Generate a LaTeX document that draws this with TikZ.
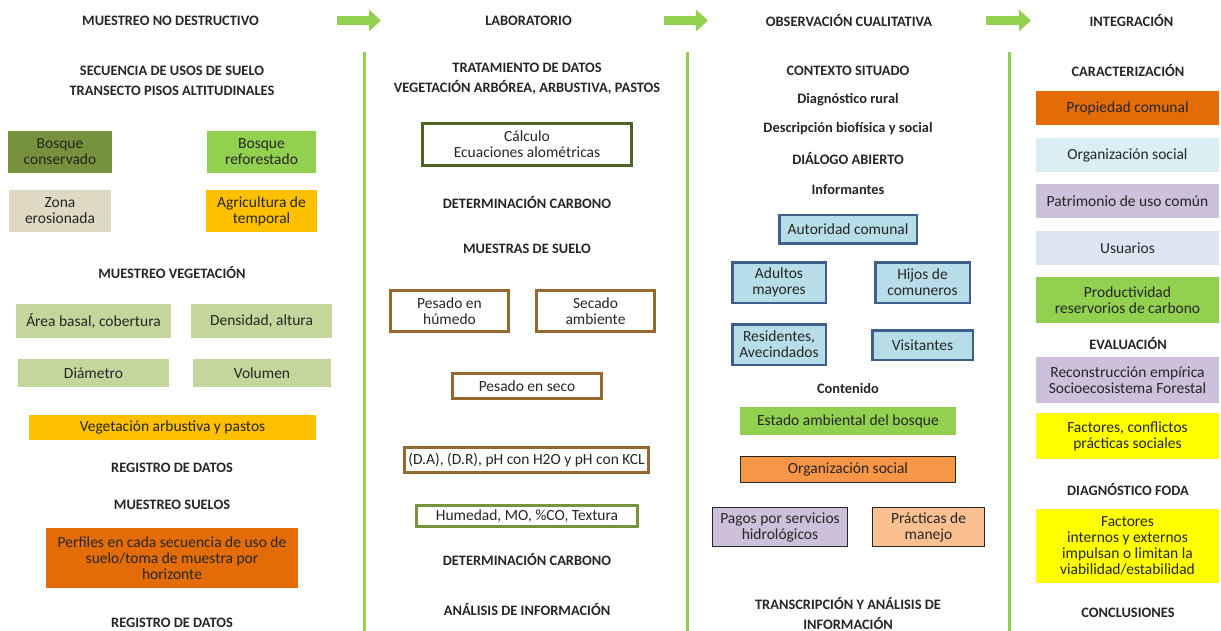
\documentclass[tikz,border=0pt]{standalone}
\usepackage{fontspec}
\setmainfont{Carlito}
\usetikzlibrary{arrows.meta}

\definecolor{txtgray}{HTML}{262626}
\definecolor{olivegreen}{HTML}{76923C}
\definecolor{limegreen}{HTML}{92D050}
\definecolor{sandtan}{HTML}{DDD9C3}
\definecolor{ambery}{HTML}{FFC000}
\definecolor{palegreen}{HTML}{C3D69B}
\definecolor{rustorange}{HTML}{E36C09}
\definecolor{skyblue}{HTML}{B7DEE8}
\definecolor{navyline}{HTML}{3F5F8A}
\definecolor{softorange}{HTML}{F79646}
\definecolor{lilac}{HTML}{CCC0DA}
\definecolor{peach}{HTML}{FAC090}
\definecolor{palecyan}{HTML}{DAEEF3}
\definecolor{paleblue}{HTML}{DCE6F2}
\definecolor{brightyellow}{HTML}{FFFF00}
\definecolor{darkolive}{HTML}{4F6228}
\definecolor{soilbrown}{HTML}{94692D}
\definecolor{mossline}{HTML}{77933C}

\tikzset{
  every node/.style={text=txtgray, font=\fontsize{15.5}{16}\selectfont},
  heading/.style={font=\fontsize{14.4}{20}\selectfont\bfseries, align=center, inner sep=0pt},
  plainbox/.style={align=center, inner sep=0pt, outer sep=0pt},
  brownbox/.style={plainbox, draw=soilbrown, line width=3pt, fill=white},
  bluebox/.style={plainbox, draw=navyline, line width=2.5pt, fill=skyblue},
  thinbox/.style={plainbox, draw=black!85, line width=1pt},
  stagearrow/.style={limegreen, line width=9pt, -{Triangle[length=12pt,width=21pt]}},
  sepline/.style={limegreen, line width=3pt}
}

\begin{document}
\begin{tikzpicture}[x=1pt,y=-1pt]
\useasboundingbox (0,0) rectangle (1221,631);

% stage titles
\node[heading] (st1) at (170.5,20.5) {MUESTREO NO DESTRUCTIVO};
\node[heading] (st2) at (528.5,20.5) {LABORATORIO};
\node[heading] (st3) at (849,20.5) {OBSERVACIÓN CUALITATIVA};
\node[heading] (st4) at (1131.5,20.5) {INTEGRACIÓN};

\coordinate (a1s) at (337,20.5);
\coordinate (a1e) at (381,20.5);
\coordinate (a2s) at (664,20.5);
\coordinate (a2e) at (708,20.5);
\coordinate (a3s) at (986,20.5);
\coordinate (a3e) at (1031,20.5);
\draw[stagearrow] (a1s) -- (a1e);
\draw[stagearrow] (a2s) -- (a2e);
\draw[stagearrow] (a3s) -- (a3e);

\coordinate (v1t) at (364,52);
\coordinate (v1b) at (364,631);
\coordinate (v2t) at (687,52);
\coordinate (v2b) at (687,631);
\coordinate (v3t) at (1009,52);
\coordinate (v3b) at (1009,631);
\draw[sepline] (v1t) -- (v1b);
\draw[sepline] (v2t) -- (v2b);
\draw[sepline] (v3t) -- (v3b);

% muestreo no destructivo
\node[heading] (secu) at (172,80.5) {SECUENCIA DE USOS DE SUELO\\TRANSECTO PISOS ALTITUDINALES};
\node[plainbox, fill=olivegreen, minimum width=104pt, minimum height=42pt] (bcons) at (60,152) {Bosque\\conservado};
\node[plainbox, fill=limegreen, minimum width=109pt, minimum height=42pt] (brefo) at (261.5,152) {Bosque\\reforestado};
\node[plainbox, fill=sandtan, minimum width=102pt, minimum height=42pt] (zona) at (60,211) {Zona\\erosionada};
\node[plainbox, fill=ambery, minimum width=111pt, minimum height=42pt] (agri) at (261.5,211) {Agricultura de\\temporal};
\node[heading] (mveg) at (172,273) {MUESTREO VEGETACIÓN};
\node[plainbox, fill=palegreen, minimum width=155pt, minimum height=34pt] (area) at (93.5,321) {Área basal, cobertura};
\node[plainbox, fill=palegreen, minimum width=141pt, minimum height=34pt] (dens) at (261.5,321) {Densidad, altura};
\node[plainbox, fill=palegreen, minimum width=151pt, minimum height=28pt] (diam) at (93.5,373) {Diámetro};
\node[plainbox, fill=palegreen, minimum width=138pt, minimum height=28pt] (volu) at (262,373) {Volumen};
\node[plainbox, fill=ambery, minimum width=287pt, minimum height=25pt] (vegar) at (172.5,427.5) {Vegetación arbustiva y pastos};
\node[heading] (reg1) at (172,468) {REGISTRO DE DATOS};
\node[heading] (msue) at (172,505) {MUESTREO SUELOS};
\node[plainbox, fill=rustorange, minimum width=252pt, minimum height=60pt] (perf) at (172,558) {Perfiles en cada secuencia de uso de\\suelo/toma de muestra por\\horizonte};
\node[heading] (reg2) at (172,623) {REGISTRO DE DATOS};

% laboratorio
\node[heading] (trat) at (527,79) {TRATAMIENTO DE DATOS\\VEGETACIÓN ARBÓREA, ARBUSTIVA, PASTOS};
\node[plainbox, draw=darkolive, line width=3pt, minimum width=209pt, minimum height=42pt] (calc) at (527,144.5) {Cálculo\\Ecuaciones alométricas};
\node[heading] (dcar1) at (527,203) {DETERMINACIÓN CARBONO};
\node[heading] (msu) at (527,249) {MUESTRAS DE SUELO};
\node[brownbox, minimum width=118pt, minimum height=41pt] (phum) at (449.5,311) {Pesado en\\húmedo};
\node[brownbox, minimum width=118pt, minimum height=41pt] (seca) at (595.5,311) {Secado\\ambiente};
\node[brownbox, minimum width=149pt, minimum height=25pt] (pseco) at (527,386) {Pesado en seco};
\node[brownbox, minimum width=244pt, minimum height=25pt] (dadr) at (526.5,460) {(D.A), (D.R), pH con H2O y pH con KCL};
\node[plainbox, draw=mossline, line width=3pt, minimum width=221pt, minimum height=21pt] (hume) at (527,516) {Humedad, MO, \%CO, Textura};
\node[heading] (dcar2) at (527,559) {DETERMINACIÓN CARBONO};
\node[heading] (anal) at (527,609) {ANÁLISIS DE INFORMACIÓN};

% observacion cualitativa
\node[heading] (ctx) at (848,71) {CONTEXTO SITUADO};
\node[heading] (diag) at (848,100) {Diagnóstico rural};
\node[heading] (desc) at (848,129) {Descripción biofísica y social};
\node[heading] (dial) at (848,159) {DIÁLOGO ABIERTO};
\node[heading] (info) at (848,190) {Informantes};
\node[bluebox, minimum width=137.5pt, minimum height=28.5pt] (auto) at (848,229.5) {Autoridad comunal};
\node[bluebox, minimum width=93.5pt, minimum height=40.5pt] (adul) at (779,282.5) {Adultos\\mayores};
\node[bluebox, minimum width=94.5pt, minimum height=40.5pt] (hijo) at (922.5,282.5) {Hijos de\\comuneros};
\node[bluebox, minimum width=93.5pt, minimum height=40.5pt] (resi) at (779,344.5) {Residentes,\\Avecindados};
\node[bluebox, minimum width=100.5pt, minimum height=29.5pt] (visi) at (922.5,345) {Visitantes};
\node[heading] (cont) at (848,388) {Contenido};
\node[plainbox, fill=limegreen, minimum width=216pt, minimum height=28pt] (esta) at (848,421) {Estado ambiental del bosque};
\node[thinbox, fill=softorange, minimum width=215pt, minimum height=26pt] (orgs) at (848,469.5) {Organización social};
\node[thinbox, fill=lilac, minimum width=135pt, minimum height=39pt] (pago) at (780,527) {Pagos por servicios\\hidrológicos};
\node[thinbox, fill=peach, minimum width=112pt, minimum height=39pt] (prac) at (928.5,527) {Prácticas de\\manejo};
\node[heading] (tran) at (848,613) {TRANSCRIPCIÓN Y ANÁLISIS DE\\INFORMACIÓN};

% integracion
\node[heading] (cara) at (1128,71) {CARACTERIZACIÓN};
\node[plainbox, fill=rustorange, minimum width=183pt, minimum height=34pt] (prop) at (1127.5,108) {Propiedad comunal};
\node[plainbox, fill=palecyan, minimum width=183pt, minimum height=34pt] (orgc) at (1127.5,155) {Organización social};
\node[plainbox, fill=lilac, minimum width=183pt, minimum height=34pt] (patr) at (1127.5,201) {Patrimonio de uso común};
\node[plainbox, fill=paleblue, minimum width=183pt, minimum height=34pt] (usua) at (1127.5,248) {Usuarios};
\node[plainbox, fill=limegreen, minimum width=183pt, minimum height=46pt] (prod) at (1127.5,300) {Productividad\\reservorios de carbono};
\node[heading] (eval) at (1128,344) {EVALUACIÓN};
\node[plainbox, fill=lilac, minimum width=183pt, minimum height=46pt] (reco) at (1127.5,380) {Reconstrucción empírica\\Socioecosistema Forestal};
\node[plainbox, fill=brightyellow, minimum width=183pt, minimum height=46pt] (fact) at (1127.5,436) {Factores, conflictos\\prácticas sociales};
\node[heading] (dfod) at (1128,489) {DIAGNÓSTICO FODA};
\node[plainbox, fill=brightyellow, minimum width=183pt, minimum height=74pt] (foda) at (1127.5,546) {Factores\\internos y externos\\impulsan o limitan la\\viabilidad/estabilidad};
\node[heading] (conc) at (1128,613) {CONCLUSIONES};
\end{tikzpicture}
\end{document}
